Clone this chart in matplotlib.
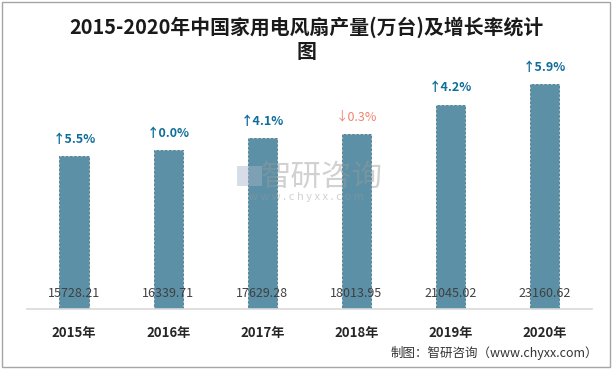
import matplotlib
matplotlib.use("Agg")
import matplotlib.pyplot as plt
from matplotlib.patches import Rectangle

plt.rcParams['font.family'] = ['Noto Sans CJK SC', 'DejaVu Sans']

years = ['2015年', '2016年', '2017年', '2018年', '2019年', '2020年']
output = [15728.21, 16339.71, 17629.28, 18013.95, 21045.02, 23160.62]
growth = [5.5, 0.0, 4.1, -0.3, 4.2, 5.9]

bar_color = '#5b90a6'
up_color = '#0f6e99'
down_color = '#f0826e'

fig = plt.figure(figsize=(6.12, 3.69), dpi=100)
ax = fig.add_axes([0.0441, 0.1626, 0.923, 0.6748])

x = range(len(years))
ax.bar(x, output, width=0.31, color=bar_color, edgecolor='#4a7a90',
       linewidth=0.6, linestyle=(0, (3, 2)), zorder=2)

ax.set_xlim(-0.5, len(years) - 0.5)
ax.set_ylim(0, 25630)
ax.set_yticks([])
ax.set_xticks(list(x))
ax.set_xticklabels(years, fontsize=9.5, fontweight='bold', color='#262626')
ax.tick_params(axis='x', length=0, pad=12)
for s in ['top', 'right', 'left']:
    ax.spines[s].set_visible(False)
ax.spines['bottom'].set_color('#d9d9d9')
ax.spines['bottom'].set_linewidth(1.2)

for i, (v, g) in enumerate(zip(output, growth)):
    ax.annotate(f'{v:.2f}', (i, 0), xytext=(0, 11), textcoords='offset points',
                ha='center', va='center', fontsize=9, color='#404040', zorder=3)
    if g < 0:
        txt, col, wt = f'↓{abs(g):.1f}%', down_color, 'normal'
    else:
        txt, col, wt = f'↑{g:.1f}%', up_color, 'bold'
    ax.annotate(txt, (i, v), xytext=(0, 12), textcoords='offset points',
                ha='center', va='center', fontsize=9, color=col, fontweight=wt)

# watermark
fig.text(0.525, 0.52, '智研咨询', fontsize=22, color='#9a9a9a', alpha=0.45,
         ha='center', va='center')
fig.patches.append(Rectangle((0.388, 0.495), 0.04, 0.055, transform=fig.transFigure,
                             facecolor='#a8b4c8', edgecolor='none', alpha=0.45))
fig.text(0.5, 0.465, 'w w w . c h y x x . c o m', fontsize=8, color='#9a9a9a',
         alpha=0.45, ha='center', va='center')

fig.text(0.5, 0.927, '2015-2020年中国家用电风扇产量(万台)及增长率统计',
         fontsize=14.3, fontweight='bold', color='#1a1a1a', ha='center', va='center')
fig.text(0.5, 0.86, '图', fontsize=14.3, fontweight='bold', color='#1a1a1a',
         ha='center', va='center')

fig.text(0.977, 0.043, '制图：智研咨询（www.chyxx.com）', fontsize=9,
         color='#333333', ha='right', va='center')

fig.patches.append(Rectangle((0.004, 0.006), 0.992, 0.988, transform=fig.transFigure,
                             fill=False, edgecolor='#a6a6a6', linewidth=1.0))

fig.savefig('out.png', dpi=100)
